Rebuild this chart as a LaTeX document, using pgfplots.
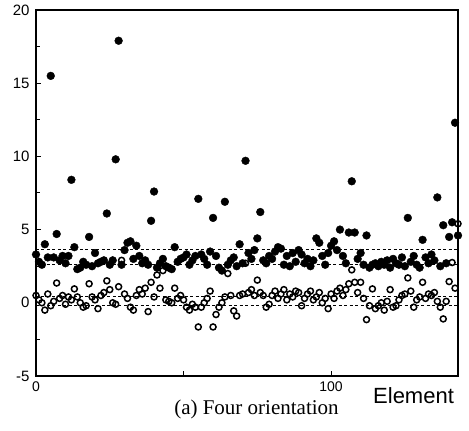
\documentclass[border=0pt]{standalone}
\usepackage{pgfplots}
\pgfplotsset{compat=1.18}
\usepackage{pgfplotstable}
\usepackage{fontspec}
\setmainfont{Liberation Serif}
\newfontfamily\sans{Liberation Sans}

\pgfplotstableread{
x y
0 3.3
1 2.8
2 2.6
3 4.0
4 3.1
5 15.5
6 3.1
7 4.7
8 2.9
9 3.2
10 2.7
11 3.2
12 8.4
13 3.8
14 2.3
15 2.4
16 2.8
17 2.6
18 4.5
19 2.5
20 3.4
21 2.7
22 2.8
23 2.9
24 6.1
25 2.6
26 2.9
27 9.8
28 17.9
29 2.6
30 3.6
31 4.1
32 4.2
33 3.0
34 3.9
35 3.2
36 2.7
37 2.9
38 2.6
39 5.6
40 7.6
41 2.4
42 2.7
43 3.0
44 2.5
45 2.4
46 2.3
47 3.8
48 2.8
49 3.0
50 3.1
51 3.3
52 2.6
53 2.9
54 3.2
55 7.1
56 3.3
57 3.0
58 2.6
59 3.5
60 5.8
61 3.2
62 2.4
63 2.2
64 6.9
65 2.6
66 2.9
67 3.1
68 2.5
69 4.0
70 2.7
71 9.7
72 3.4
73 3.0
74 3.6
75 4.4
76 6.2
77 2.9
78 2.7
79 3.2
80 3.0
81 3.5
82 3.8
83 3.7
84 2.6
85 3.2
86 2.5
87 3.4
88 2.8
89 3.6
90 3.3
91 2.7
92 3.0
93 2.5
94 2.9
95 4.4
96 4.1
97 3.2
98 2.6
99 3.4
100 3.9
101 4.2
102 3.6
103 5.0
104 3.2
105 2.7
106 4.8
107 8.3
108 4.8
109 3.0
110 3.4
111 2.6
112 4.6
113 2.4
114 2.6
115 2.7
116 2.5
117 2.8
118 2.6
119 2.9
120 2.4
121 3.0
122 2.7
123 2.6
124 3.1
125 2.5
126 5.8
127 2.8
128 3.2
129 2.6
130 2.4
131 4.3
132 3.1
133 2.7
134 3.3
135 2.9
136 7.2
137 2.5
138 5.3
139 2.7
140 4.5
141 5.5
142 12.3
143 4.6
}\filled

\pgfplotstableread{
x y
0 0.5
1 0.2
2 0.0
3 -0.5
4 0.6
5 -0.2
6 0.1
7 1.35
8 0.3
9 0.5
10 -0.1
11 0.4
12 0.2
13 0.95
14 0.4
15 0.0
16 -0.3
17 -0.2
18 1.3
19 0.4
20 0.2
21 -0.4
22 0.5
23 0.7
24 1.5
25 0.9
26 0.0
27 -0.1
28 1.1
29 2.9
30 0.6
31 0.3
32 -0.3
33 -0.5
34 0.5
35 0.9
36 0.6
37 1.0
38 -0.6
39 1.4
40 0.4
41 1.9
42 1.0
43 2.2
44 0.2
45 0.1
46 0.0
47 1.0
48 0.3
49 0.5
50 0.2
51 -0.3
52 -0.5
53 -0.1
54 -0.3
55 -1.65
56 -0.3
57 0.0
58 0.3
59 0.8
60 -1.65
61 -0.8
62 -0.3
63 0.0
64 0.4
65 2.0
66 0.5
67 -0.55
68 -0.9
69 0.5
70 0.6
71 2.7
72 0.7
73 0.9
74 0.5
75 1.55
76 0.7
77 0.5
78 -0.3
79 -0.1
80 0.5
81 0.8
82 0.3
83 0.6
84 0.9
85 0.2
86 0.6
87 0.4
88 0.8
89 0.7
90 -0.2
91 0.3
92 0.6
93 0.8
94 0.2
95 0.4
96 0.7
97 0.0
98 0.3
99 -0.4
100 0.6
101 0.3
102 0.8
103 1.0
104 0.5
105 0.9
106 1.3
107 2.25
108 1.4
109 0.7
110 1.4
111 0.3
112 -1.15
113 -0.2
114 0.95
115 -0.4
116 -0.2
117 0.0
118 -0.5
119 0.1
120 0.9
121 -0.3
122 -0.2
123 0.2
124 0.5
125 0.6
126 1.7
127 0.8
128 -0.3
129 0.2
130 0.4
131 1.4
132 0.3
133 0.6
134 0.5
135 0.7
136 0.1
137 -0.3
138 -1.1
139 0.1
140 1.45
141 2.75
142 1.0
143 5.4
}\opened

\begin{document}
\begin{tikzpicture}
\begin{axis}[
  scale only axis,
  width=422pt, height=366pt,
  xmin=0, xmax=143, ymin=-5, ymax=20,
  clip=false,
  axis line style={line width=1.5pt},
  tick style={line width=1pt, black},
  major tick length=5pt, minor tick length=4pt,
  tick align=inside,
  xtick pos=bottom, ytick pos=left,
  xtick={0,50,100}, xticklabels={0,,100},
  ytick={-5,0,5,10,15,20},
  minor ytick={-2.5,2.5,7.5,12.5,17.5},
  /pgf/number format/assume math mode=true,
  yticklabel style={font=\sans\fontsize{15}{15}\selectfont, xshift=-3pt},
  xticklabel style={font=\sans\fontsize{14}{14}\selectfont, yshift=-2pt},
  yticklabel={\pgfmathprintnumber{\tick}},
]
\addplot[only marks, mark=*, mark size=3.9pt, mark options={fill=black, draw=black}] table {\filled};
\addplot[only marks, mark=o, mark size=3.0pt, mark options={draw=black, fill=white, line width=1.5pt}] table {\opened};
\addplot[black, line width=1pt, dash pattern=on 3pt off 2.5pt] coordinates {(0,3.65) (143,3.65)};
\addplot[black, line width=1pt, dash pattern=on 3pt off 2.5pt] coordinates {(0,2.65) (143,2.65)};
\addplot[black, line width=1pt, dash pattern=on 3pt off 2.5pt] coordinates {(0,0.45) (143,0.45)};
\addplot[black, line width=1pt, dash pattern=on 3pt off 2.5pt] coordinates {(0,-0.2) (143,-0.2)};
\coordinate (SW) at (rel axis cs:0,0);
\coordinate (NE) at (rel axis cs:1,1);
\end{axis}
\node[anchor=base west, font=\sans\fontsize{22}{22}\selectfont, inner sep=0pt] at ([shift={(337pt,-28pt)}]SW) {Element};
\node[anchor=base, font=\fontsize{21}{21}\selectfont, inner sep=0pt] at ([shift={(220.5pt,-39pt)}]SW) {(a) Four orientation};
\pgfresetboundingbox
\path[use as bounding box] ([shift={(-36pt,-55pt)}]SW) rectangle ([shift={(11pt,10pt)}]NE);
\end{tikzpicture}
\end{document}
